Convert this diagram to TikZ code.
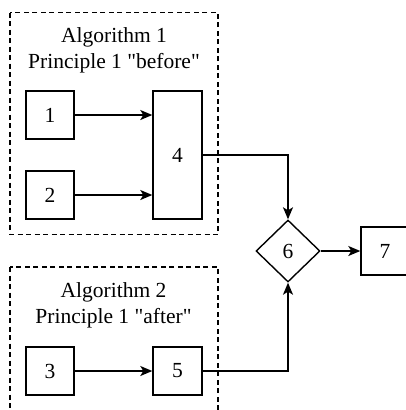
\documentclass[tikz,border=0pt]{standalone}
\usepackage{fontspec}
\setmainfont{Liberation Serif}[Ligatures=TeXOff]
\usetikzlibrary{shapes.geometric,arrows.meta}
\begin{document}
\begin{tikzpicture}[x=1pt,y=-1pt,
  box/.style={draw,line width=1.4pt,fill=white,inner sep=0pt,font=\fontsize{21.5}{24}\selectfont},
  grp/.style={draw,line width=1.2pt,dash pattern=on 5pt off 3.5pt},
  conn/.style={line width=1.4pt,-{Stealth[length=12pt,width=10pt,inset=3pt]}},
  lbl/.style={align=center,font=\fontsize{21.5}{26}\selectfont,inner sep=0pt}]
\clip (0,0) rectangle (406,410);
\useasboundingbox (0,0) rectangle (406,410);
\draw[grp] (10,12.5) rectangle (218,234.5);
\draw[grp] (10,267) rectangle (218,430);
\node[lbl] (t1) at (114,50) {Algorithm 1\\Principle 1 "before"};
\node[lbl] (t2) at (113.5,305) {Algorithm 2\\Principle 1 "after"};
\node[box,minimum width=48pt,minimum height=48pt] (b1) at (50,115) {1};
\node[box,minimum width=48pt,minimum height=48pt] (b2) at (50,195) {2};
\node[box,minimum width=49pt,minimum height=128pt] (b4) at (177.5,155) {4};
\node[box,minimum width=48pt,minimum height=48pt] (b3) at (50,371) {3};
\node[box,minimum width=49pt,minimum height=48pt] (b5) at (177.5,371) {5};
\node[box,diamond,minimum width=64pt,minimum height=62pt] (d6) at (288,251) {6};
\node[box,minimum width=48pt,minimum height=48pt] (b7) at (385,251) {7};
\draw[conn] (b1.east) -- (b1.east -| b4.west);
\draw[conn] (b2.east) -- (b2.east -| b4.west);
\draw[conn] (b3.east) -- (b5.west);
\draw[conn] (b4.east) -| (d6.north);
\draw[conn] (b5.east) -| (d6.south);
\draw[conn] (d6.east) -- (b7.west);
\end{tikzpicture}
\end{document}
